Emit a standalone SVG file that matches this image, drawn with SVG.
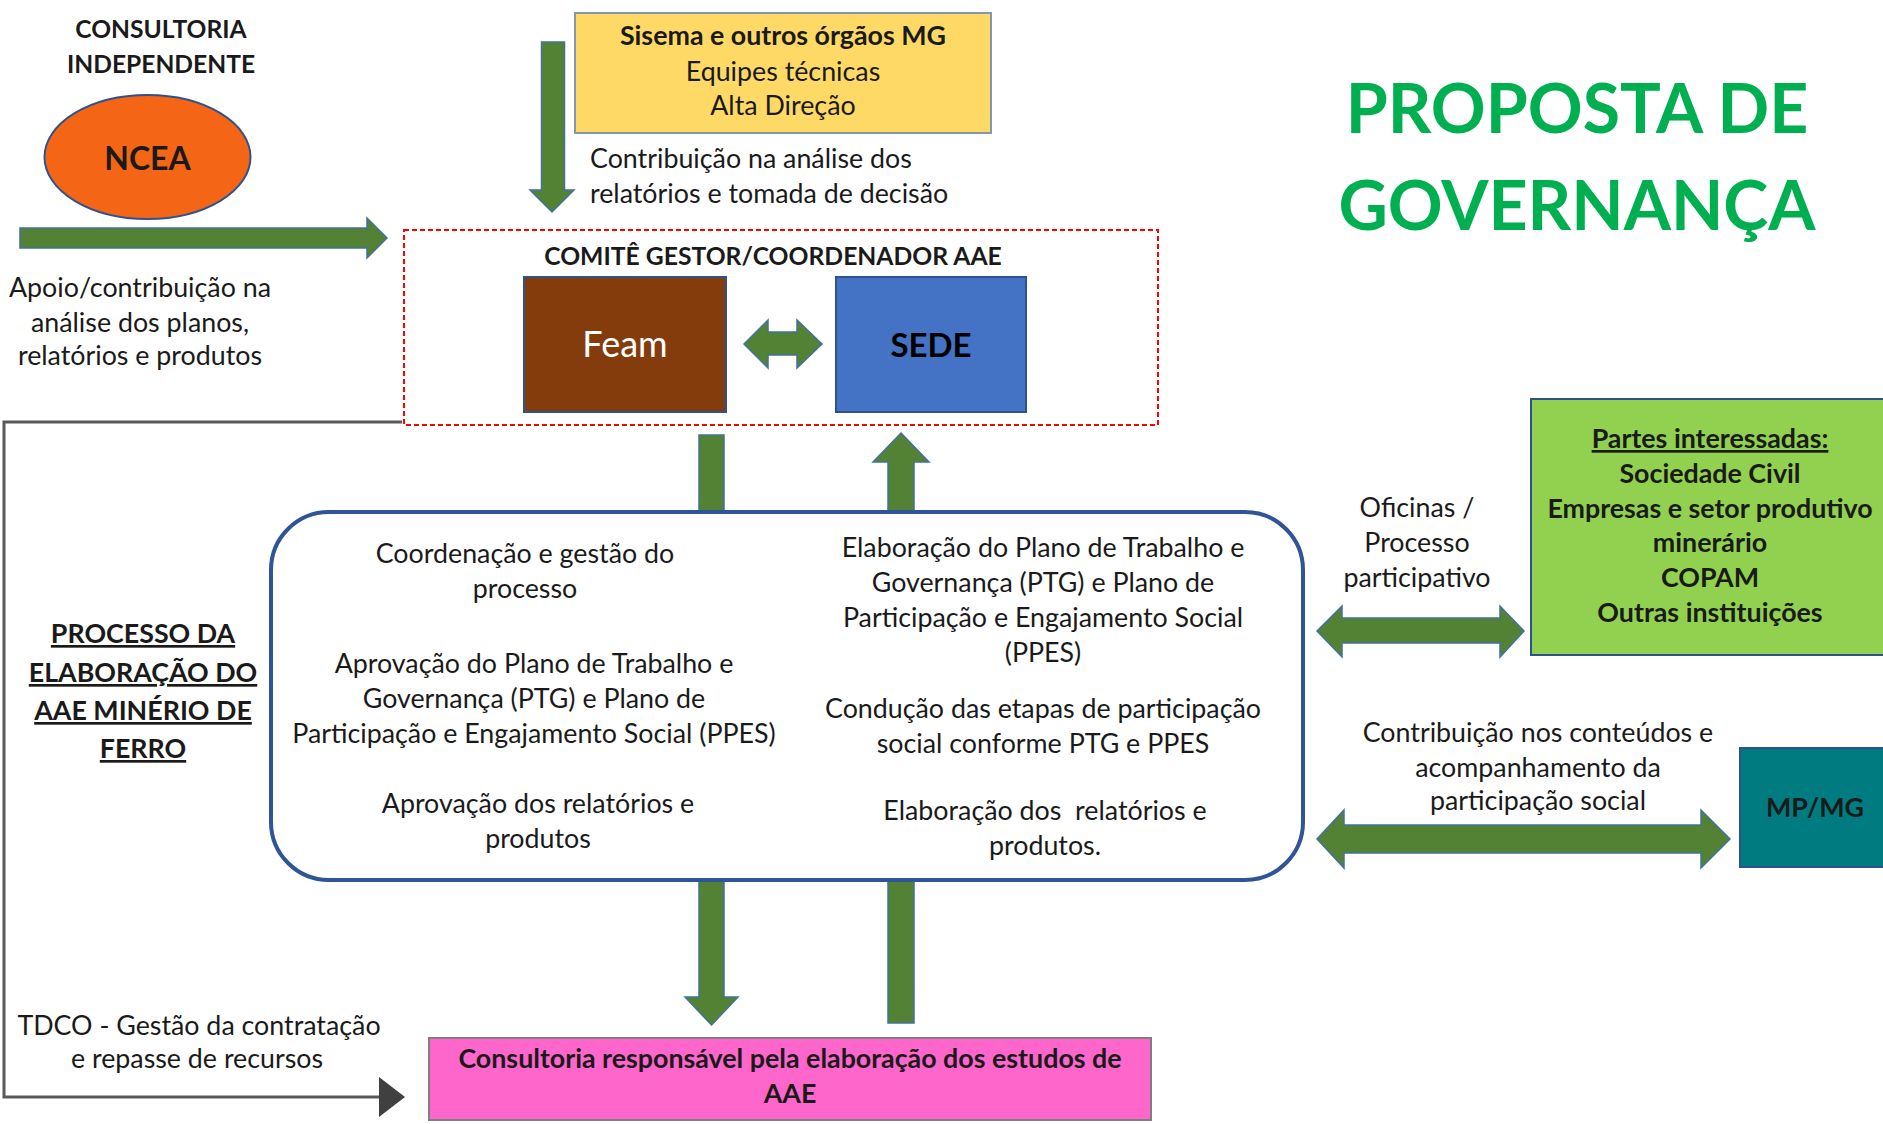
<svg xmlns="http://www.w3.org/2000/svg" width="1883" height="1124" viewBox="0 0 1883 1124">
<defs>
<style>
text{font-family:Lato,"Open Sans","Liberation Sans",sans-serif;fill:#1a1a1a}
.t{font-size:26.8px;text-anchor:middle}
.tl{font-size:26.8px}
.b{font-weight:bold}
.garrow{fill:#548235;stroke:#41719C;stroke-width:1.5}
.node{stroke:#2F528F;stroke-width:2}
</style>
</defs>
<rect width="1883" height="1124" fill="#ffffff"/>

<!-- connectors -->
<g id="connectors">
<polygon class="garrow" points="20,228 367,228 367,218 387,238 367,258 367,248 20,248"/>
<polygon class="garrow" points="541.5,42 564.5,42 564.5,190 574,190 552,212 530,190 541.5,190"/>
<polygon class="garrow" points="744,344 768,320 768,332 797,332 797,320 822,344 797,368 797,355 768,355 768,368"/>
<polygon class="garrow" points="699,435 724,435 724,997 738,997 711.5,1025 685,997 699,997"/>
<polygon class="garrow" points="901,433 929,462 914,462 914,1023 888,1023 888,462 873,462"/>
<polygon class="garrow" points="1317,631 1342,606 1342,618 1500,618 1500,606 1524,631 1500,657 1500,643 1342,643 1342,657"/>
<polygon class="garrow" points="1317,839 1344,810 1344,825 1701,825 1701,810 1730,839 1701,868 1701,853 1344,853 1344,868"/>
<path d="M402,422 H4 V1097 H380" fill="none" stroke="#595959" stroke-width="3"/>
<polygon points="379,1077 405,1097 379,1117" fill="#404040"/>
</g>

<!-- consultoria independente / NCEA -->
<g id="ncea">
<text class="t b" x="161" y="38" style="font-size:24.6px">CONSULTORIA</text>
<text class="t b" x="161" y="73" style="font-size:24.6px">INDEPENDENTE</text>
<ellipse class="node" cx="147.5" cy="157" rx="103" ry="62" fill="#F46515"/>
<text class="t b" x="147.5" y="170" style="font-size:32px">NCEA</text>
</g>

<g id="label-apoio">
<text class="t" x="140" y="297">Apoio/contribuição na</text>
<text class="t" x="140" y="332">análise dos planos,</text>
<text class="t" x="140" y="365">relatórios e produtos</text>
</g>

<!-- Sisema -->
<g id="sisema">
<rect x="575" y="13" width="416" height="120" fill="#FFD966" stroke="#8497B0" stroke-width="2"/>
<text class="t b" x="783" y="45">Sisema e outros órgãos MG</text>
<text class="t" x="783" y="81">Equipes técnicas</text>
<text class="t" x="783" y="115">Alta Direção</text>
</g>
<g id="label-contribuicao">
<text class="tl" x="590" y="168">Contribuição na análise dos</text>
<text class="tl" x="590" y="203">relatórios e tomada de decisão</text>
</g>

<!-- title -->
<g id="title">
<text class="t b" x="1577" y="133" style="font-size:68px;fill:#00B050">PROPOSTA DE</text>
<text class="t b" x="1577" y="230" style="font-size:68px;fill:#00B050">GOVERNANÇA</text>
</g>

<!-- comite -->
<g id="comite">
<rect x="404" y="230" width="754" height="195" fill="none" stroke="#FF0000" stroke-width="2" stroke-dasharray="5,3"/>
<text class="t b" x="773" y="265" style="font-size:24.7px">COMITÊ GESTOR/COORDENADOR AAE</text>
</g>
<g id="feam">
<rect class="node" x="524" y="277" width="202" height="135" fill="#843C0C"/>
<text class="t" x="625" y="357" style="font-size:36px;fill:#ffffff">Feam</text>
</g>
<g id="sede">
<rect class="node" x="836" y="277" width="190" height="135" fill="#4472C4"/>
<text class="t b" x="931" y="357" style="font-size:33px;fill:#000000">SEDE</text>
</g>

<!-- processo -->
<g id="processo-title">
<text class="t b" x="143" y="643" text-decoration="underline">PROCESSO DA</text>
<text class="t b" x="143" y="682" text-decoration="underline">ELABORAÇÃO DO</text>
<text class="t b" x="143" y="720" text-decoration="underline">AAE MINÉRIO DE</text>
<text class="t b" x="143" y="758" text-decoration="underline">FERRO</text>
</g>
<g id="processo">
<rect x="271" y="512" width="1032" height="368" rx="58" ry="58" fill="#ffffff" stroke="#2F5597" stroke-width="4"/>
<text class="t" x="525" y="563">Coordenação e gestão do</text>
<text class="t" x="525" y="598">processo</text>
<text class="t" x="534" y="673">Aprovação do Plano de Trabalho e</text>
<text class="t" x="534" y="708">Governança (PTG) e Plano de</text>
<text class="t" x="534" y="743">Participação e Engajamento Social (PPES)</text>
<text class="t" x="538" y="813">Aprovação dos relatórios e</text>
<text class="t" x="538" y="848">produtos</text>
<text class="t" x="1043" y="557">Elaboração do Plano de Trabalho e</text>
<text class="t" x="1043" y="592">Governança (PTG) e Plano de</text>
<text class="t" x="1043" y="627">Participação e Engajamento Social</text>
<text class="t" x="1043" y="662">(PPES)</text>
<text class="t" x="1043" y="718">Condução das etapas de participação</text>
<text class="t" x="1043" y="753">social conforme PTG e PPES</text>
<text class="t" x="1045" y="820" xml:space="preserve">Elaboração dos  relatórios e</text>
<text class="t" x="1045" y="855">produtos.</text>
</g>

<!-- partes interessadas -->
<g id="label-oficinas">
<text class="t" x="1417" y="517">Oficinas /</text>
<text class="t" x="1417" y="552">Processo</text>
<text class="t" x="1417" y="587">participativo</text>
</g>
<g id="partes">
<rect class="node" x="1531" y="399" width="360" height="256" fill="#92D050"/>
<text class="t b" x="1710" y="448" text-decoration="underline">Partes interessadas:</text>
<text class="t b" x="1710" y="483">Sociedade Civil</text>
<text class="t b" x="1710" y="518">Empresas e setor produtivo</text>
<text class="t b" x="1710" y="552">minerário</text>
<text class="t b" x="1710" y="587">COPAM</text>
<text class="t b" x="1710" y="622">Outras instituições</text>
</g>

<g id="label-mp">
<text class="t" x="1538" y="742">Contribuição nos conteúdos e</text>
<text class="t" x="1538" y="777">acompanhamento da</text>
<text class="t" x="1538" y="810">participação social</text>
</g>
<g id="mpmg">
<rect class="node" x="1740" y="748" width="150" height="119" fill="#007C80"/>
<text class="t b" x="1815" y="817">MP/MG</text>
</g>

<!-- consultoria responsável -->
<g id="label-tdco">
<text class="t" x="199" y="1035">TDCO - Gestão da contratação</text>
<text class="t" x="197" y="1068">e repasse de recursos</text>
</g>
<g id="consultoria">
<rect x="429" y="1038" width="722" height="82" fill="#FF66CC" stroke="#7F7F7F" stroke-width="2"/>
<text class="t b" x="790" y="1068">Consultoria responsável pela elaboração dos estudos de</text>
<text class="t b" x="790" y="1103">AAE</text>
</g>
</svg>
